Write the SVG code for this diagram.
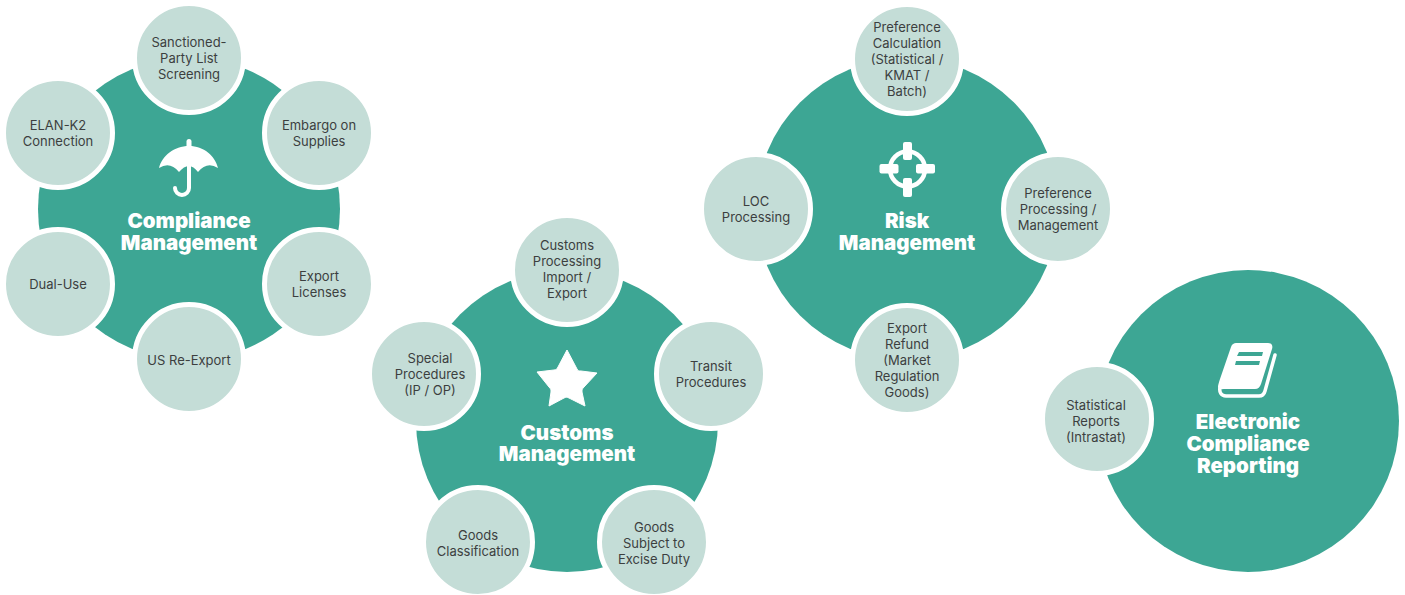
<svg xmlns="http://www.w3.org/2000/svg" width="1405" height="595" viewBox="0 0 1405 595">
<style>
.hub{fill:#3da694}
.sat{fill:#c4ddd7;stroke:#fff;stroke-width:5}
text{font-family:"Inter","Roboto","Liberation Sans",sans-serif;text-anchor:middle}
.l{font-size:13px;fill:#3c3f3f}
.t{font-size:20.500px;font-weight:900;fill:#fff}
.i{fill:#fff}
.o{fill:none;stroke:#fff;stroke-linecap:round}
</style>
<g id="compliance">
<circle class="hub" cx="189" cy="209" r="151"/>
<rect class="i" x="186.500" y="139" width="5" height="9" rx="2.500"/>
<path class="i" d="M159 168C162 156 174 146 189 146C204 146 215 156 218 168Q207 161 198 172Q189 160 179 172Q170 161 159 168Z"/>
<path class="o" stroke-width="4" d="M189 165V188a7 7 0 0 1-14 0"/>
<text class="t"><tspan x="189" y="228">Compliance</tspan><tspan x="189" y="250">Management</tspan></text>
</g>
<g id="sanctioned"><circle class="sat" cx="189" cy="58" r="54.500"/><text class="l"><tspan x="189" y="47">Sanctioned-</tspan><tspan x="189" y="63">Party List</tspan><tspan x="189" y="79">Screening</tspan></text></g>
<g id="embargo"><circle class="sat" cx="319" cy="133" r="54.500"/><text class="l"><tspan x="319" y="130">Embargo on</tspan><tspan x="319" y="146">Supplies</tspan></text></g>
<g id="export-licenses"><circle class="sat" cx="319" cy="284" r="54.500"/><text class="l"><tspan x="319" y="281">Export</tspan><tspan x="319" y="297">Licenses</tspan></text></g>
<g id="us-reexport"><circle class="sat" cx="189" cy="359" r="54.500"/><text class="l" x="189" y="365">US Re-Export</text></g>
<g id="dual-use"><circle class="sat" cx="58" cy="284" r="54.500"/><text class="l" x="58" y="289">Dual-Use</text></g>
<g id="elan"><circle class="sat" cx="58" cy="133" r="54.500"/><text class="l"><tspan x="58" y="130">ELAN-K2</tspan><tspan x="58" y="146">Connection</tspan></text></g>

<g id="customs">
<circle class="hub" cx="567" cy="421" r="151"/>
<path class="i" d="M567 350L577 369C578 371 579 371 581 371L597 373L584 387C582 389 582 390 582 392L585 406L569 398C567 397 566 397 564 398L549 406L551 392C551 390 551 389 549 387L537 372L554 370C556 370 557 369 558 367Z" stroke="#fff" stroke-width="1" stroke-linejoin="round"/>
<text class="t"><tspan x="567" y="440">Customs</tspan><tspan x="567" y="461">Management</tspan></text>
</g>
<g id="customs-processing"><circle class="sat" cx="567" cy="270" r="54.500"/><text class="l"><tspan x="567" y="250">Customs</tspan><tspan x="567" y="266">Processing</tspan><tspan x="567" y="282">Import /</tspan><tspan x="567" y="298">Export</tspan></text></g>
<g id="transit"><circle class="sat" cx="711" cy="374" r="54.500"/><text class="l"><tspan x="711" y="371">Transit</tspan><tspan x="711" y="387">Procedures</tspan></text></g>
<g id="excise"><circle class="sat" cx="654" cy="542" r="54.500"/><text class="l"><tspan x="654" y="532">Goods</tspan><tspan x="654" y="548">Subject to</tspan><tspan x="654" y="564">Excise Duty</tspan></text></g>
<g id="classification"><circle class="sat" cx="478" cy="542" r="54.500"/><text class="l"><tspan x="478" y="540">Goods</tspan><tspan x="478" y="556">Classification</tspan></text></g>
<g id="special"><circle class="sat" cx="424" cy="374" r="54.500"/><text class="l"><tspan x="430" y="363">Special</tspan><tspan x="430" y="379">Procedures</tspan><tspan x="430" y="395">(IP / OP)</tspan></text></g>

<g id="risk">
<circle class="hub" cx="907" cy="209" r="151"/>
<circle class="o" cx="907.500" cy="169" r="17.500" stroke-width="4.500"/>
<rect class="i" x="903" y="142" width="9" height="18" rx="2"/>
<rect class="i" x="903" y="178" width="9" height="19" rx="2"/>
<rect class="i" x="879.500" y="164" width="19" height="9.500" rx="2"/>
<rect class="i" x="916" y="164" width="19" height="9.500" rx="2"/>
<text class="t"><tspan x="907" y="228">Risk</tspan><tspan x="907" y="250">Management</tspan></text>
</g>
<g id="preference-calc"><circle class="sat" cx="907" cy="59" r="54.500"/><text class="l"><tspan x="907" y="32">Preference</tspan><tspan x="907" y="48">Calculation</tspan><tspan x="907" y="64">(Statistical /</tspan><tspan x="907" y="80">KMAT /</tspan><tspan x="907" y="96">Batch)</tspan></text></g>
<g id="preference-proc"><circle class="sat" cx="1058" cy="209" r="54.500"/><text class="l"><tspan x="1058" y="198">Preference</tspan><tspan x="1058" y="214">Processing /</tspan><tspan x="1058" y="230">Management</tspan></text></g>
<g id="refund"><circle class="sat" cx="907" cy="360" r="54.500"/><text class="l"><tspan x="907" y="333">Export</tspan><tspan x="907" y="349">Refund</tspan><tspan x="907" y="365">(Market</tspan><tspan x="907" y="381">Regulation</tspan><tspan x="907" y="397">Goods)</tspan></text></g>
<g id="loc"><circle class="sat" cx="756" cy="209" r="54.500"/><text class="l"><tspan x="756" y="206">LOC</tspan><tspan x="756" y="222">Processing</tspan></text></g>

<g id="reporting">
<circle class="hub" cx="1248" cy="421" r="151"/>
<path class="i" fill-rule="evenodd" d="M1236 343H1268C1272 343 1273 346 1272 349L1261 384C1260 387 1258 389 1255 389H1226C1222 389 1219 390 1218 387C1218 385 1219 382 1220 379L1231 347C1232 344 1234 343 1236 343ZM1239 352L1237 356H1262L1263 352ZM1236 361L1235 365H1259L1260 361Z"/>
<path class="o" stroke-width="3.500" d="M1275 355L1265 391C1264 395 1262 396 1259 396H1226C1221 396 1219 392 1220 387"/>
<text class="t"><tspan x="1248" y="429">Electronic</tspan><tspan x="1248" y="451">Compliance</tspan><tspan x="1248" y="473">Reporting</tspan></text>
</g>
<g id="statistical"><circle class="sat" cx="1097" cy="419" r="54.500"/><text class="l"><tspan x="1096" y="410">Statistical</tspan><tspan x="1096" y="426">Reports</tspan><tspan x="1096" y="442">(Intrastat)</tspan></text></g>
<g id="connectors"></g>
</svg>
